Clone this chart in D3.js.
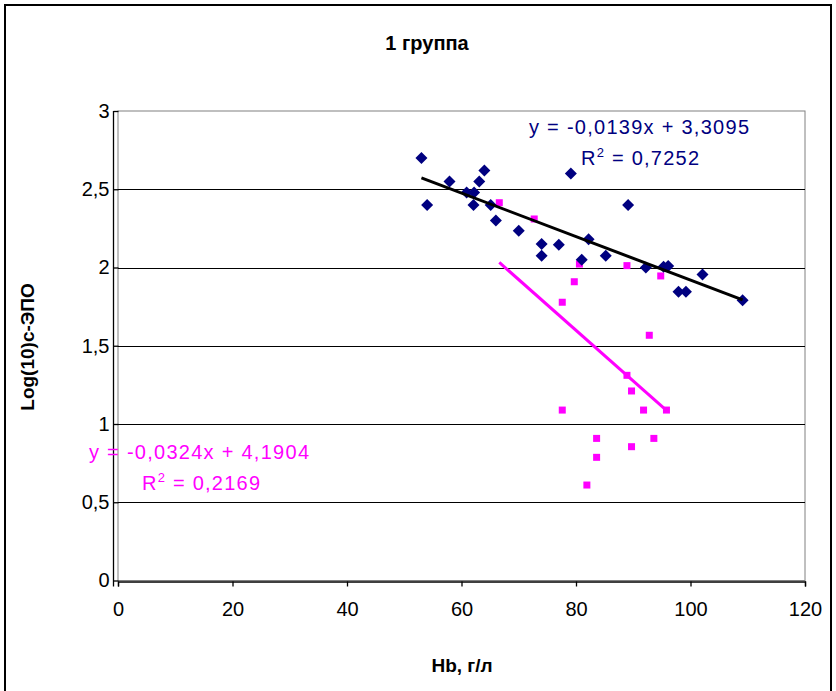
<!DOCTYPE html>
<html><head><meta charset="utf-8">
<script src="https://cdn.jsdelivr.net/npm/d3@7/dist/d3.min.js"></script>
<style>body{margin:0;background:#fff}svg text{font-family:"Liberation Sans",Arial,sans-serif}</style>
</head><body><svg id="c" width="836" height="691"></svg>
<script>
const chartTitle = "1 группа";
const xTitle = "Hb, г/л";
const yTitle = "Log(10)с-ЭПО";
const xTicks = [0, 20, 40, 60, 80, 100, 120];
const yTicks = [0, 0.5, 1, 1.5, 2, 2.5, 3];

const blueX = [53.0, 54.0, 57.9, 60.9, 62.2, 62.1, 63.1, 64.0, 65.1, 66.0, 70.0, 74.0, 74.0, 77.0, 79.1, 81.0, 82.2, 85.2, 89.1, 92.2, 95.3, 96.1, 97.9, 99.2, 102.1, 109.1];
const blueY = [2.70, 2.40, 2.55, 2.48, 2.48, 2.40, 2.55, 2.62, 2.40, 2.30, 2.235, 2.15, 2.075, 2.145, 2.60, 2.05, 2.18, 2.075, 2.40, 2.00, 2.005, 2.01, 1.845, 1.845, 1.956, 1.79];

const pinkX = [66.6, 72.7, 77.6, 79.7, 80.6, 88.9, 94.8, 92.8, 88.9, 89.7, 77.6, 91.8, 95.8, 83.6, 93.6, 89.7, 83.6, 81.9];
const pinkY = [2.414, 2.31, 1.778, 1.909, 2.022, 2.012, 1.946, 1.567, 1.311, 1.211, 1.089, 1.089, 1.089, 0.908, 0.908, 0.855, 0.787, 0.610];

// trendline coefficients [slope, intercept] and labels
const blueFit = [-0.0139, 3.3095];
const pinkFit = [-0.0324, 4.1904];
const blueEqLabels = ["y = -0,0139x + 3,3095", "0,7252"];
const pinkEqLabels = ["y = -0,0324x + 4,1904", "0,2169"];

const blueColor = "#000080", pinkColor = "#FF00FF";

const svg = d3.select("#c");
const x = d3.scaleLinear().domain([0, 120]).range([118, 805]);
const y = d3.scaleLinear().domain([0, 3]).range([580.5, 111]);
const fmt = d => String(d).replace(".", ",");

// outer border
svg.append("rect").attr("x", 5).attr("y", 5).attr("width", 826).attr("height", 700)
  .attr("fill", "#fff").attr("stroke", "#000").attr("stroke-width", 2);

// plot area border (gray)
svg.append("rect").attr("x", x(0)).attr("y", y(3)).attr("width", x(120) - x(0)).attr("height", y(0) - y(3))
  .attr("fill", "#fff").attr("stroke", "#808080").attr("stroke-width", 1);

// gridlines
svg.append("g").selectAll("line").data(yTicks.filter(d => d > 0 && d < 3)).join("line")
  .attr("x1", x(0)).attr("x2", x(120)).attr("y1", d => Math.round(y(d)) + 0.5).attr("y2", d => Math.round(y(d)) + 0.5)
  .attr("stroke", "#000").attr("stroke-width", 1);

// axes
const gx = svg.append("g").attr("transform", `translate(0,${Math.round(y(0)) + 0.5})`)
  .call(d3.axisBottom(x).tickValues(xTicks).tickSize(5).tickPadding(15).tickFormat(fmt));
const gy = svg.append("g").attr("transform", `translate(${x(0) + 0.5},0)`)
  .call(d3.axisLeft(y).tickValues(yTicks).tickSize(5).tickPadding(4).tickFormat(fmt));
[gx, gy].forEach(g => {
  g.select(".domain").attr("stroke", "#000").attr("stroke-width", 1.3);
  g.selectAll(".tick line").attr("stroke", "#000").attr("stroke-width", 1.3);
  g.selectAll("text").attr("font-size", 20).attr("fill", "#000").attr("font-family", "Liberation Sans, Arial, sans-serif");
});
gy.select(".domain").attr("d", `M-5,${y(0)+6}V${y(3)}`);

// trendlines
function fitLine(fit, xs, color) {
  const x0 = d3.min(xs), x1 = d3.max(xs);
  svg.append("line")
    .attr("x1", x(x0)).attr("y1", y(fit[0] * x0 + fit[1]))
    .attr("x2", x(x1)).attr("y2", y(fit[0] * x1 + fit[1]))
    .attr("stroke", color).attr("stroke-width", 3);
}

// pink squares
svg.append("g").selectAll("rect").data(pinkX.map((v, i) => [v, pinkY[i]])).join("rect")
  .attr("x", d => x(d[0]) - 3.5).attr("y", d => y(d[1]) - 3.5).attr("width", 7).attr("height", 7)
  .attr("fill", pinkColor);

// blue diamonds
svg.append("g").selectAll("path").data(blueX.map((v, i) => [v, blueY[i]])).join("path")
  .attr("d", d => { const cx = x(d[0]), cy = y(d[1]), r = 6; return `M${cx},${cy - r}L${cx + r},${cy}L${cx},${cy + r}L${cx - r},${cy}Z`; })
  .attr("fill", blueColor);

fitLine(blueFit, blueX, "#000");
fitLine(pinkFit, pinkX, pinkColor);

// equation labels
function eq(labels, color, x1, b1, x2, b2) {
  svg.append("text").attr("x", x1).attr("y", b1).attr("font-size", 20).attr("fill", color)
    .attr("textLength", 220).attr("lengthAdjust", "spacing").text(labels[0]);
  const t = svg.append("text").attr("x", x2).attr("y", b2).attr("font-size", 20).attr("fill", color)
    .attr("textLength", 118).attr("lengthAdjust", "spacing");
  t.append("tspan").text("R");
  t.append("tspan").attr("font-size", 13).attr("dy", -8).text("2");
  t.append("tspan").attr("dy", 8).text(" = " + labels[1]);
}
eq(blueEqLabels, blueColor, 529, 134, 581, 165);
eq(pinkEqLabels, pinkColor, 89, 459, 142, 490);

// titles
svg.append("text").attr("x", 427).attr("y", 50).attr("text-anchor", "middle")
  .attr("font-size", 20).attr("font-weight", "bold").text(chartTitle);
svg.append("text").attr("x", 462).attr("y", 672).attr("text-anchor", "middle")
  .attr("font-size", 19).attr("font-weight", "bold").text(xTitle);
svg.append("text").attr("transform", `translate(34,347) rotate(-90)`).attr("text-anchor", "middle")
  .attr("font-size", 19).attr("font-weight", "bold").text(yTitle);
</script></body></html>
